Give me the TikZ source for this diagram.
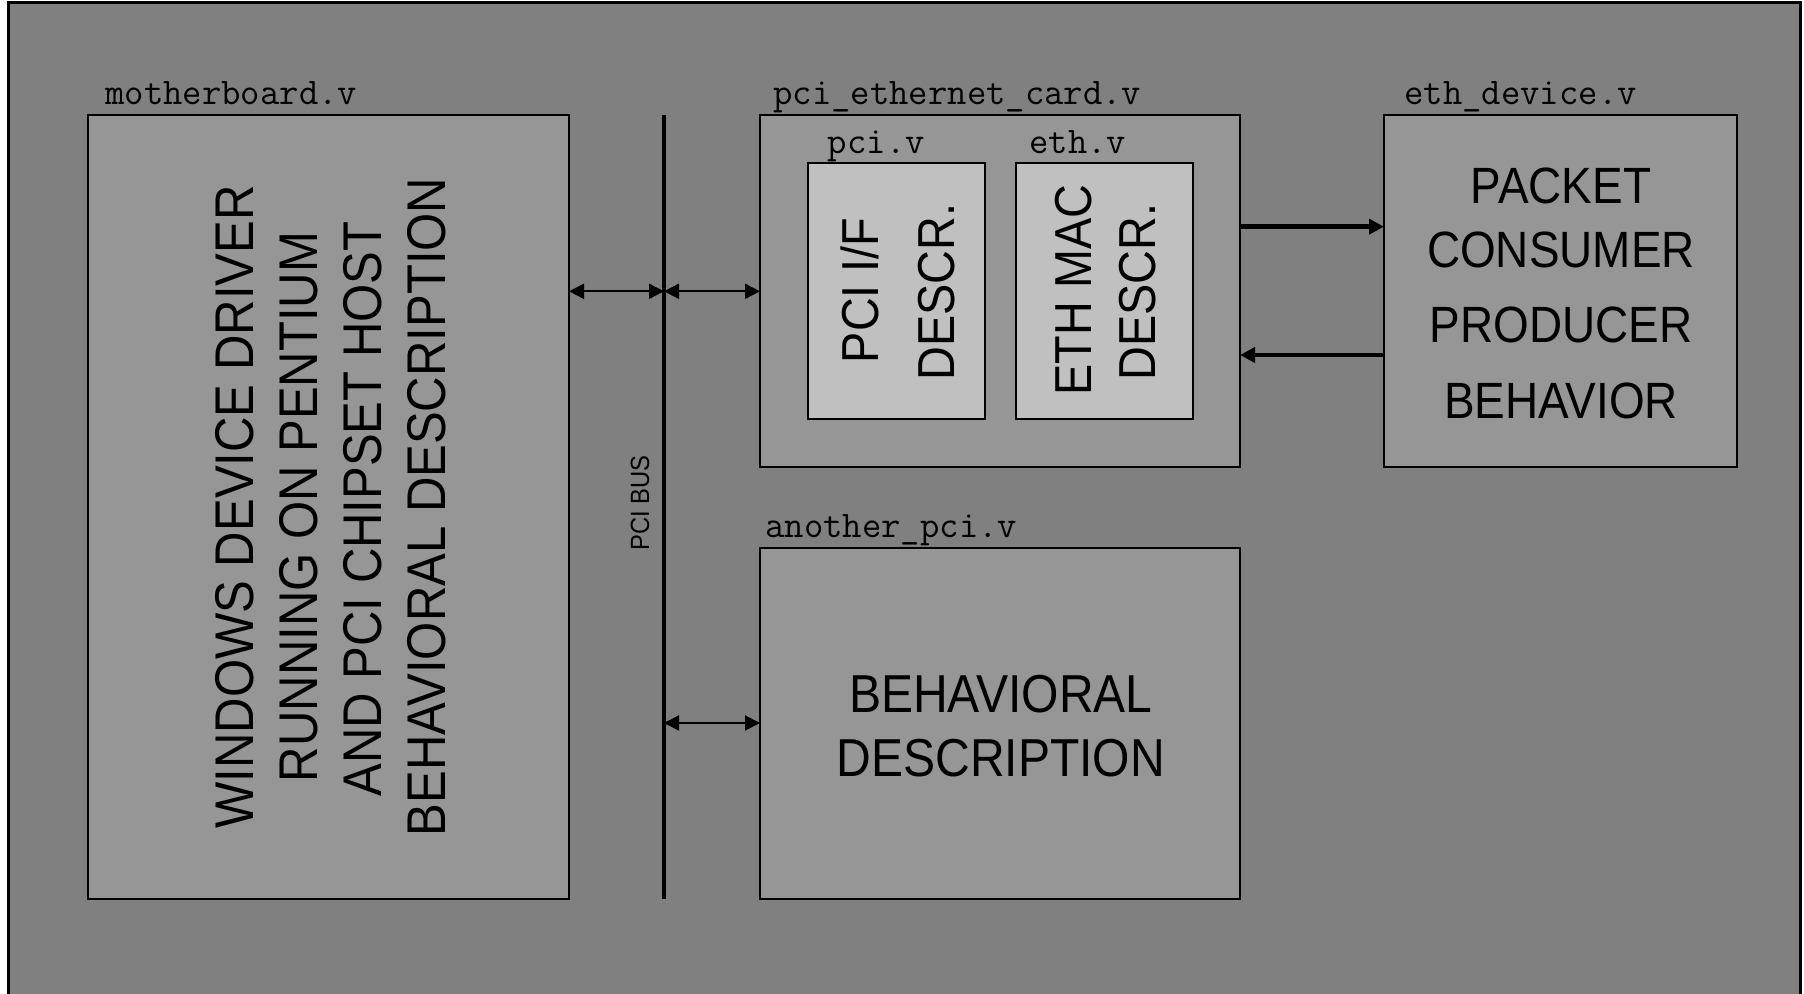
\documentclass[tikz,border=0pt]{standalone}
\usepackage{fontspec}
\usetikzlibrary{arrows.meta,calc}
\newfontfamily\dfont[FakeStretch=0.9]{Liberation Sans}
\definecolor{bggray}{RGB}{128,128,128}
\definecolor{boxgray}{RGB}{150,150,150}
\definecolor{ingray}{RGB}{192,192,192}
\begin{document}
\begin{tikzpicture}[x=0.5pt,y=-0.5pt,
  box/.style={draw=black,line width=1pt,fill=boxgray,anchor=north west,inner sep=0pt,outer sep=0pt},
  inbox/.style={box,fill=ingray},
  lbl/.style={font=\ttfamily\fontsize{18.8pt}{20pt}\selectfont,anchor=base west,inner sep=0pt},
  txt/.style={inner sep=0pt,anchor=center},
  vtxt/.style={txt,rotate=90},
  arrthin/.style={line width=1pt,{Triangle[length=7.5pt,width=7.5pt]}-{Triangle[length=7.5pt,width=7.5pt]}},
  arrthick/.style={line width=2.35pt,-{Triangle[length=7.5pt,width=7.5pt]}},
]
\useasboundingbox (0,0) rectangle (1804,994);
\clip (0,0) rectangle (1804,994);
\fill[white] (0,0) rectangle (1804,994);
\draw[line width=1.5pt,fill=bggray] (8,3) rectangle (1800,1012);

% boxes
\node[box,minimum width=240.5pt,minimum height=392pt] (mb) at (88,115) {};
\node[box,minimum width=240pt,minimum height=176pt] (card) at (760,115) {};
\node[inbox,minimum width=88.75pt,minimum height=128pt] (pcib) at (807.5,163) {};
\node[inbox,minimum width=88.5pt,minimum height=128pt] (ethb) at (1016,163) {};
\node[box,minimum width=176.25pt,minimum height=176pt] (dev) at (1384,115) {};
\node[box,minimum width=240pt,minimum height=175.65pt] (ap) at (760,547.7) {};

% labels
\node[lbl] (lmb) at (105,105) {motherboard.v};
\node[lbl] (lcard) at (773,105) {pci\_ethernet\_card.v};
\node[lbl] (ldev) at (1404,105) {eth\_device.v};
\node[lbl] (lap) at (765,537) {another\_pci.v};
\node[lbl] (lpci) at (827.5,153.3) {pci.v};
\node[lbl] (leth) at (1029,153.3) {eth.v};

% motherboard text
\begin{scope}[every node/.style={vtxt,font=\dfont\fontsize{27.25pt}{30pt}\selectfont}]
\node (mb1) at (234.5,507) {WINDOWS DEVICE DRIVER};
\node (mb2) at (298.5,507) {RUNNING ON PENTIUM};
\node (mb3) at (362.5,509) {AND PCI CHIPSET HOST};
\node (mb4) at (426.5,507) {BEHAVIORAL DESCRIPTION};
\end{scope}

% inner boxes text
\begin{scope}[every node/.style={vtxt,font=\dfont\fontsize{26pt}{30pt}\selectfont}]
\node (p1) at (860.3,290.3) {PCI I/F};
\node (p2) at (937,292) {DESCR.};
\node (e1) at (1074,290) {ETH MAC};
\node (e2) at (1137.8,292) {DESCR.};
\end{scope}

% eth device text
\begin{scope}[every node/.style={txt,font=\dfont\fontsize{25.5pt}{30pt}\selectfont}]
\node (d1) at (1561,185.7) {PACKET};
\node (d2) at (1561,250) {CONSUMER};
\node (d3) at (1561,325.3) {PRODUCER};
\node (d4) at (1561,401.3) {BEHAVIOR};
\end{scope}

% another pci text
\begin{scope}[every node/.style={txt,font=\dfont\fontsize{26.7pt}{30pt}\selectfont}]
\node (a1) at (1000.8,694) {BEHAVIORAL};
\node (a2) at (1000.8,758) {DESCRIPTION};
\end{scope}

% PCI bus
\coordinate (bustop) at (664,115);
\coordinate (busbot) at (664,899);
\draw[line width=2.35pt] (bustop) -- (busbot);
\node[vtxt,font=\dfont\fontsize{13.2pt}{15pt}\selectfont] (buslbl) at (640,503.3) {PCI BUS};

% connectors
\coordinate (bA) at (664,291.3);
\coordinate (bB) at (664,723);
\draw[arrthin] (bA -| mb.east) -- (bA);
\draw[arrthin] (bA) -- (bA -| card.west);
\draw[arrthin] (bB) -- (bB -| ap.west);
\coordinate (tA) at (1300,226.7);
\coordinate (tB) at (1300,355);
\draw[arrthick] (tA -| card.east) -- (tA -| dev.west);
\draw[arrthick] (tB -| dev.west) -- (tB -| card.east);
\end{tikzpicture}
\end{document}
